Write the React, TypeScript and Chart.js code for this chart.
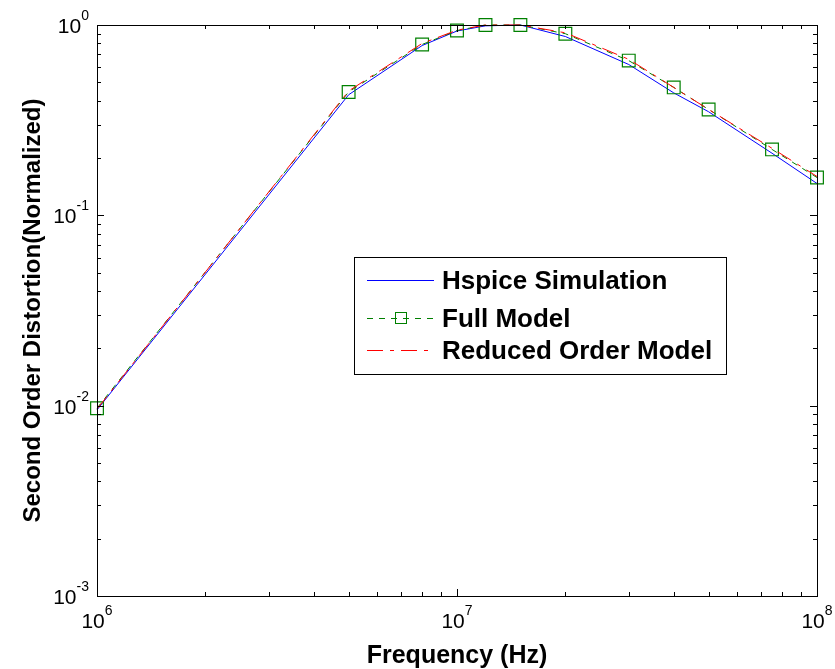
import React, { useEffect, useRef } from "react";
import { Chart, registerables } from "chart.js";

Chart.register(...registerables);

const freqs = [1e6, 5e6, 8e6, 1e7, 1.2e7, 1.5e7, 2e7, 3e7, 4e7, 5e7, 7.5e7, 1e8];
const hspice = [0.0095, 0.43, 0.78, 0.93, 0.99, 1.0, 0.87, 0.62, 0.44, 0.35, 0.212, 0.147];
const fullModel = [0.0097, 0.445, 0.79, 0.935, 1.0, 1.0, 0.9, 0.65, 0.47, 0.36, 0.222, 0.158];
const reducedModel = [0.0096, 0.45, 0.8, 0.94, 1.0, 1.0, 0.91, 0.66, 0.47, 0.36, 0.225, 0.16];

const xExponents = [6, 7, 8];
const yExponents = [-3, -2, -1, 0];
const seriesNames = ["Hspice Simulation", "Full Model", "Reduced Order Model"];
const xTitle = "Frequency (Hz)";
const yTitle = "Second Order Distortion(Normalized)";

const FONT = "'Liberation Sans', Arial, Helvetica, sans-serif";
const BLUE = "#0000ff";
const GREEN = "#008000";
const RED = "#ff0000";
const GREEN_DASH = [6, 6];
const RED_DASH = [16, 7, 4, 7];

const toPts = (ys: number[]) => freqs.map((f, i) => ({ x: f, y: ys[i] }));

const axesPlugin = {
  id: "matlabAxes",
  afterDraw(chart: any) {
    const ctx = chart.ctx as CanvasRenderingContext2D;
    const { left, right, top, bottom } = chart.chartArea;
    const xs = chart.scales.x;
    const ys = chart.scales.y;
    ctx.save();
    // box
    ctx.strokeStyle = "#000";
    ctx.lineWidth = 1;
    ctx.setLineDash([]);
    ctx.strokeRect(Math.round(left) + 0.5, Math.round(top) + 0.5, Math.round(right - left), Math.round(bottom - top));
    // ticks
    ctx.beginPath();
    for (let e = xExponents[0]; e < xExponents[xExponents.length - 1] + 1; e++) {
      for (let k = 1; k <= 9; k++) {
        const v = k * Math.pow(10, e);
        if (v > Math.pow(10, xExponents[xExponents.length - 1]) * 1.0001) continue;
        const px = Math.round(xs.getPixelForValue(v)) + 0.5;
        const len = k === 1 ? 7 : 4;
        ctx.moveTo(px, bottom);
        ctx.lineTo(px, bottom - len);
        ctx.moveTo(px, top);
        ctx.lineTo(px, top + len);
      }
    }
    for (let e = yExponents[0]; e < yExponents[yExponents.length - 1] + 1; e++) {
      for (let k = 1; k <= 9; k++) {
        const v = k * Math.pow(10, e);
        if (v > Math.pow(10, yExponents[yExponents.length - 1]) * 1.0001) continue;
        const py = Math.round(ys.getPixelForValue(v)) + 0.5;
        const len = k === 1 ? 7 : 4;
        ctx.moveTo(left, py);
        ctx.lineTo(left + len, py);
        ctx.moveTo(right, py);
        ctx.lineTo(right - len, py);
      }
    }
    ctx.stroke();

    // tick labels
    ctx.fillStyle = "#000";
    const baseFont = `21px ${FONT}`;
    const expFont = `14px ${FONT}`;
    ctx.textBaseline = "alphabetic";
    ctx.textAlign = "left";
    xExponents.forEach((e) => {
      const px = xs.getPixelForValue(Math.pow(10, e));
      ctx.font = baseFont;
      const w1 = ctx.measureText("10").width;
      ctx.font = expFont;
      const w2 = ctx.measureText(String(e)).width;
      const x0 = px - (w1 + w2) / 2;
      ctx.font = baseFont;
      ctx.fillText("10", x0, 628);
      ctx.font = expFont;
      ctx.fillText(String(e), x0 + w1, 615);
    });
    yExponents.forEach((e) => {
      const py = ys.getPixelForValue(Math.pow(10, e));
      ctx.font = expFont;
      const w2 = ctx.measureText(String(e)).width;
      ctx.font = baseFont;
      const w1 = ctx.measureText("10").width;
      const xr = 89;
      ctx.fillText("10", xr - w2 - w1, py + 8);
      ctx.font = expFont;
      ctx.fillText(String(e), xr - w2, py - 5);
    });

    // axis titles
    ctx.font = `bold 25px ${FONT}`;
    ctx.textAlign = "center";
    ctx.fillText(xTitle, (left + right) / 2, 663);
    ctx.save();
    ctx.translate(40, (top + bottom) / 2);
    ctx.rotate(-Math.PI / 2);
    ctx.font = `bold 24px ${FONT}`;
    ctx.fillText(yTitle, 0, 0);
    ctx.restore();

    // legend
    const lx = 354, ly = 257, lw = 372, lh = 117;
    ctx.fillStyle = "#fff";
    ctx.fillRect(lx, ly, lw, lh);
    ctx.strokeStyle = "#000";
    ctx.lineWidth = 1;
    ctx.strokeRect(lx + 0.5, ly + 0.5, lw, lh);
    const rows = [280, 318, 350];
    const colors = [BLUE, GREEN, RED];
    const dashes: number[][] = [[], GREEN_DASH, RED_DASH];
    rows.forEach((ry, i) => {
      ctx.beginPath();
      ctx.strokeStyle = colors[i];
      ctx.setLineDash(dashes[i]);
      ctx.moveTo(367, ry + 0.5);
      ctx.lineTo(434, ry + 0.5);
      ctx.stroke();
      ctx.setLineDash([]);
      if (i === 1) {
        ctx.strokeRect(395.5, ry - 5.5, 11, 11);
      }
      ctx.fillStyle = "#000";
      ctx.font = `bold 26px ${FONT}`;
      ctx.textAlign = "left";
      ctx.fillText(seriesNames[i], 442, ry + 9);
    });
    ctx.restore();
  },
};

export default function App() {
  const ref = useRef<HTMLCanvasElement | null>(null);
  useEffect(() => {
    if (!ref.current) return;
    const chart = new Chart(ref.current, {
      type: "line",
      data: {
        datasets: [
          {
            label: seriesNames[0],
            data: toPts(hspice),
            borderColor: BLUE,
            borderWidth: 1,
            pointRadius: 0,
            tension: 0,
            order: 3,
            clip: false as any,
          },
          {
            label: seriesNames[1],
            data: toPts(fullModel),
            borderColor: GREEN,
            borderWidth: 1,
            borderDash: GREEN_DASH,
            pointStyle: "rect",
            pointRadius: 9,
            pointBorderColor: GREEN,
            pointBorderWidth: 1.2,
            pointBackgroundColor: "rgba(0,0,0,0)",
            tension: 0,
            order: 2,
            clip: false as any,
          },
          {
            label: seriesNames[2],
            data: toPts(reducedModel),
            borderColor: RED,
            borderWidth: 1,
            borderDash: RED_DASH,
            pointRadius: 0,
            tension: 0,
            order: 1,
            clip: false as any,
          },
        ],
      },
      options: {
        responsive: false,
        animation: false,
        devicePixelRatio: 1,
        parsing: true,
        layout: { padding: { left: 97, right: 18, top: 25, bottom: 73 } },
        plugins: { legend: { display: false }, tooltip: { enabled: false } },
        scales: {
          x: { type: "logarithmic", min: 1e6, max: 1e8, display: false },
          y: { type: "logarithmic", min: 1e-3, max: 1, display: false },
        },
      },
      plugins: [axesPlugin],
    });
    return () => chart.destroy();
  }, []);
  return (
    <div style={{ position: "fixed", left: 0, top: 0, width: 835, height: 669, background: "#fff" }}>
      <canvas ref={ref} width={835} height={669} style={{ width: 835, height: 669 }} />
    </div>
  );
}
